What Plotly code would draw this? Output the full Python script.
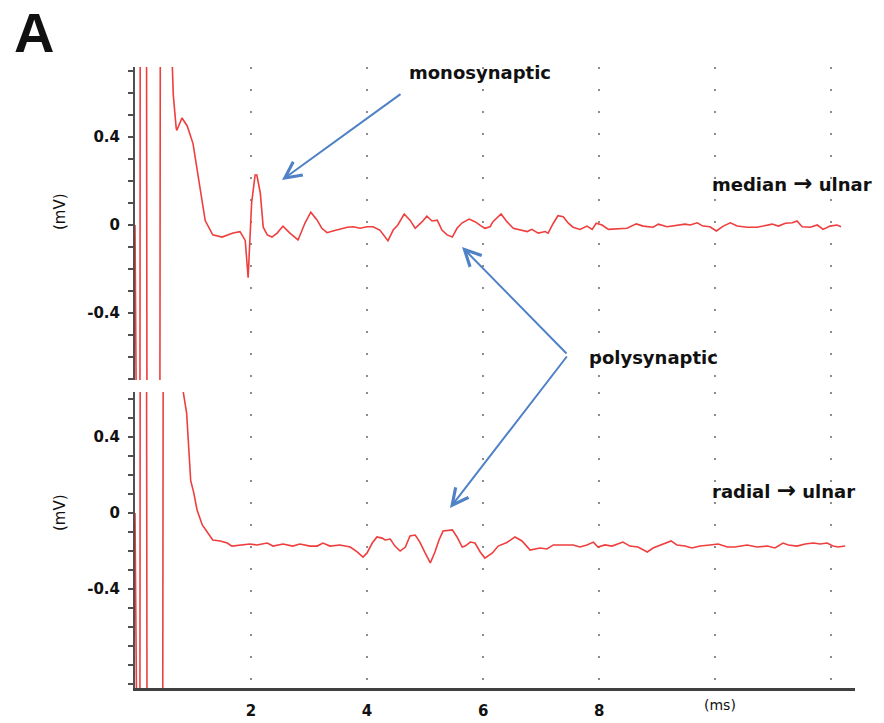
import plotly.graph_objects as go

# ---------------- data ----------------
# time in ms, amplitude in mV
median_t = [0, 0.08, 0.095, 0.19, 0.215, 0.42, 0.445, 0.62,
            0.64, 0.66, 0.71, 0.72, 0.81, 0.90, 1.00, 1.12, 1.21, 1.34,
            1.50, 1.69, 1.81, 1.90, 1.95, 2.01, 2.07, 2.10, 2.16, 2.21,
            2.28, 2.36, 2.45, 2.55, 2.67, 2.81, 2.93, 3.03, 3.14, 3.22,
            3.31, 3.41, 3.53, 3.66, 3.76, 3.88, 4.00, 4.10, 4.22, 4.36,
            4.45, 4.53, 4.64, 4.74, 4.83, 4.95, 5.03, 5.12, 5.21, 5.29,
            5.38, 5.47, 5.55, 5.64, 5.76, 5.86, 5.97, 6.03, 6.12, 6.17,
            6.31, 6.41, 6.52, 6.64, 6.76, 6.84, 6.95, 7.07, 7.12, 7.21,
            7.29, 7.38, 7.47, 7.55, 7.67, 7.79, 7.88, 7.95, 8.05, 8.16,
            8.31, 8.48, 8.64, 8.76, 8.93, 9.02, 9.17, 9.34, 9.48, 9.57,
            9.69, 9.79, 9.91, 10.02, 10.14, 10.26, 10.38, 10.55, 10.72, 10.83,
            10.98, 11.09, 11.21, 11.33, 11.41, 11.50, 11.64, 11.76, 11.86, 11.98,
            12.10, 12.17]
median_v = [0, -3, 3, 3, -3, -3, 3, 3,
            0.75, 0.59, 0.44, 0.43, 0.486, 0.45, 0.37, 0.17, 0.02, -0.045,
            -0.055, -0.036, -0.03, -0.07, -0.24, 0.10, 0.227, 0.227, 0.145, -0.01,
            -0.045, -0.055, -0.037, -0.005, -0.037, -0.068, 0.009, 0.058, 0.022, -0.015,
            -0.035, -0.027, -0.02, -0.01, -0.008, -0.015, -0.008, -0.008, -0.023, -0.072,
            -0.023, 0.0, 0.05, 0.022, -0.015, 0.015, 0.04, 0.018, 0.022, -0.023,
            -0.045, -0.055, -0.015, 0.01, 0.027, 0.015, -0.005, -0.015, -0.008, 0.015,
            0.05, 0.015, -0.015, -0.023, -0.03, -0.02, -0.037, -0.03, -0.037, 0.008,
            0.042, 0.037, 0.008, -0.01, -0.02, -0.005, -0.02, 0.008, 0.0, -0.02,
            -0.017, -0.015, 0.005, -0.005, -0.01, 0.004, -0.008, 0.0, 0.004, 0.0,
            0.01, -0.005, -0.008, -0.027, -0.005, 0.01, -0.005, -0.01, -0.01, -0.005,
            0.004, -0.005, 0.008, 0.01, 0.018, -0.008, -0.01, 0.0, -0.02, -0.005,
            0.0, -0.008]

radial_t = [0, 0.08, 0.095, 0.19, 0.215, 0.47, 0.495, 0.80,
            0.83, 0.89, 0.96, 1.01, 1.07, 1.16, 1.24, 1.34, 1.47, 1.59,
            1.67, 1.81, 1.98, 2.10, 2.28, 2.38, 2.55, 2.72, 2.84, 3.02,
            3.14, 3.24, 3.36, 3.53, 3.71, 3.83, 3.93, 4.00, 4.09, 4.17,
            4.26, 4.31, 4.40, 4.48, 4.57, 4.66, 4.74, 4.83, 4.91, 5.00,
            5.09, 5.17, 5.24, 5.31, 5.47, 5.55, 5.64, 5.69, 5.78, 5.86,
            5.95, 6.03, 6.16, 6.26, 6.41, 6.55, 6.67, 6.81, 6.98, 7.10,
            7.21, 7.38, 7.55, 7.67, 7.79, 7.90, 7.98, 8.10, 8.22, 8.41,
            8.53, 8.67, 8.83, 8.93, 9.10, 9.24, 9.34, 9.48, 9.60, 9.74,
            9.91, 10.05, 10.21, 10.34, 10.55, 10.72, 10.90, 11.03, 11.17, 11.26,
            11.41, 11.55, 11.69, 11.81, 11.93, 12.03, 12.12, 12.24]
radial_v = [0, -3, 3, 3, -3, -3, 3, 3,
            0.64, 0.526, 0.17, 0.11, 0.016, -0.063, -0.1, -0.142, -0.147, -0.158,
            -0.174, -0.168, -0.163, -0.168, -0.158, -0.174, -0.163, -0.174, -0.163, -0.174,
            -0.174, -0.158, -0.174, -0.168, -0.179, -0.205, -0.232, -0.21, -0.158, -0.126,
            -0.132, -0.142, -0.137, -0.174, -0.2, -0.179, -0.121, -0.116, -0.153, -0.21,
            -0.263, -0.205, -0.142, -0.095, -0.089, -0.126, -0.179, -0.174, -0.153, -0.158,
            -0.205, -0.237, -0.21, -0.174, -0.155, -0.126, -0.147, -0.195, -0.184, -0.189,
            -0.168, -0.168, -0.168, -0.179, -0.168, -0.153, -0.179, -0.168, -0.174, -0.153,
            -0.174, -0.179, -0.205, -0.184, -0.163, -0.147, -0.168, -0.174, -0.184, -0.174,
            -0.168, -0.163, -0.179, -0.179, -0.168, -0.179, -0.174, -0.184, -0.158, -0.168,
            -0.174, -0.163, -0.158, -0.163, -0.158, -0.174, -0.179, -0.174]

x_grid = [2, 4, 6, 8, 10, 12]
x_tick_text = ["2", "4", "6", "8", "", ""]
y_tick_vals = [-0.4, 0, 0.4]
y_tick_text = ["-0.4", "0", "0.4"]

# ---------------- layout helpers ----------------
W, H = 884, 723
ML, MR, MT, MB = 135, 29, 67, 35
PW, PH = W - ML - MR, H - MT - MB


def px(x):
    return (x - ML) / PW


def py(y):
    return (H - MB - y) / PH


TRACE_COLOR = "#ef3e3e"
AXIS_COLOR = "#505050"
ARROW_COLOR = "#4f81c7"
FONT = "DejaVu Sans"

fig = go.Figure()
fig.add_trace(go.Scatter(x=median_t, y=median_v, mode="lines", xaxis="x2", yaxis="y2",
                         line=dict(color=TRACE_COLOR, width=1.6), hoverinfo="skip"))
fig.add_trace(go.Scatter(x=radial_t, y=radial_v, mode="lines", xaxis="x", yaxis="y",
                         line=dict(color=TRACE_COLOR, width=1.6), hoverinfo="skip"))

grid_common = dict(showgrid=True, gridcolor="#8c8c8c", gridwidth=1.6, griddash="2px,20px",
                   zeroline=False, range=[0, 12.41], tickvals=x_grid, automargin=False)

yaxis_common = dict(showgrid=False, zeroline=False, showline=True, linecolor=AXIS_COLOR,
                    linewidth=2, ticks="outside", ticklen=5, tickwidth=1.5, tickcolor=AXIS_COLOR,
                    tickvals=y_tick_vals, ticktext=y_tick_text, automargin=False,
                    tickfont=dict(family=FONT, size=15, color="#111", weight="bold"),
                    ticklabelstandoff=5,
                    minor=dict(dtick=0.1, ticks="outside", ticklen=5, tickwidth=1.5,
                               tickcolor=AXIS_COLOR, showgrid=False))

fig.update_layout(
    template="none",
    width=W, height=H, margin=dict(l=ML, r=MR, t=MT, b=MB, autoexpand=False),
    paper_bgcolor="white", plot_bgcolor="white", showlegend=False,
    xaxis=dict(**grid_common, anchor="y", domain=[0, 1], showline=True, linecolor="#404040",
               linewidth=3, ticks="", ticktext=x_tick_text, ticklabelstandoff=7,
               tickfont=dict(family=FONT, size=15, color="#111", weight="bold")),
    xaxis2=dict(**grid_common, anchor="y2", domain=[0, 1], matches="x", showline=False,
                showticklabels=False, ticks=""),
    yaxis=dict(**yaxis_common, anchor="x", domain=[0, (H - MB - 392) / PH],
               range=[-0.921, 0.637]),
    yaxis2=dict(**yaxis_common, anchor="x2", domain=[(H - MB - 380) / PH, 1],
                range=[-0.7045, 0.718]),
)

annotations = []


def label(text, x, y, size=18, bold=True, xanchor="left", angle=0, family=FONT):
    annotations.append(dict(text=text, x=px(x), y=py(y), xref="paper", yref="paper",
                            xanchor=xanchor, yanchor="middle", showarrow=False, textangle=angle,
                            font=dict(family=family, size=size, color="#111",
                                      weight="bold" if bold else "normal")))


def arrow(head, tail):
    annotations.append(dict(text="", x=px(head[0]), y=py(head[1]), xref="paper", yref="paper",
                            ax=tail[0] - head[0], ay=tail[1] - head[1], axref="pixel", ayref="pixel",
                            showarrow=True, arrowhead=5, arrowsize=1.6, arrowwidth=2,
                            arrowcolor=ARROW_COLOR, standoff=0, startstandoff=0))


ARROW_GLYPH = "<span style='font-size:23px'>\u2192</span>"

label("A", 12, 33, size=56, family="Liberation Sans")
label("monosynaptic", 407, 72)
label("median " + ARROW_GLYPH + " ulnar", 710, 183)
label("polysynaptic", 587, 357)
label("radial " + ARROW_GLYPH + " ulnar", 710, 490)
label("(mV)", 60, 212, size=15, bold=False, xanchor="center", angle=-90)
label("(mV)", 60, 513, size=15, bold=False, xanchor="center", angle=-90)
label("(ms)", 720, 705, size=14, bold=False, xanchor="center")

arrow((282, 180), (402, 93))
arrow((462, 247), (568, 355))
arrow((450, 508), (568, 355))

fig.update_layout(annotations=annotations)
fig.write_html("out.html")
